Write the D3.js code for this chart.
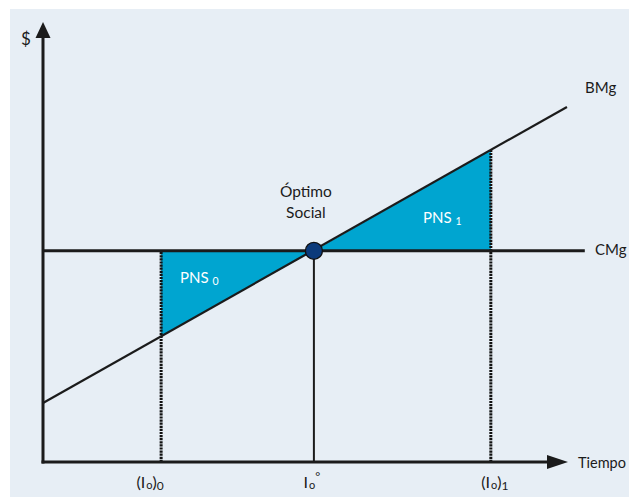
<!DOCTYPE html>
<html>
<head>
<meta charset="utf-8">
<script src="https://cdn.jsdelivr.net/npm/d3@7"></script>
<style>
  html, body { margin: 0; padding: 0; background: #ffffff; }
  svg { display: block; font-family: "Lato", "Noto Sans", sans-serif; }
</style>
</head>
<body>
<svg id="chart" width="629" height="497"></svg>
<script>
// ---------- DATA (abstract units: time on x, $ on y) ----------
const tickValues = [22.5, 51.6, 85.3];
const tickLabels = [
  [["(I", "n"], ["o", "sub"], [")", "n"], ["0", "sub2"]],
  [["I", "n"], ["o", "sub"], ["°", "sup"]],
  [["(I", "n"], ["o", "sub"], [")", "n"], ["1", "sub2"]]
];
const cmgLevel = 48;
const cmgExtent = [0, 103.2];
const bmgLine = [[0, 13.4], [99.8, 80.7]];
const optimum = [51.6, 48];
const pns0 = [[22.5, 48], [51.6, 48], [22.5, 28.6]];
const pns1 = [[51.6, 48], [85.3, 48], [85.3, 70.9]];
const dottedGuides = [[22.5, 48], [85.3, 70.9]];
const solidGuides = [[51.6, 48]];
const curveLabels = ["BMg", "CMg"];
const axisLabels = ["$", "Tiempo"];
const optimumLabel = ["Óptimo", "Social"];
const areaLabels = [["PNS", "0"], ["PNS", "1"]];

// ---------- LAYOUT ----------
const W = 629, H = 497;
const x = d3.scaleLinear().domain([0, 100]).range([43, 568]);
const y = d3.scaleLinear().domain([0, 100]).range([462, 22]);
const ink = "#1b1b1b";
const fillBlue = "#00a5d0";

const svg = d3.select("#chart");
svg.append("rect").attr("x", 10).attr("y", 9).attr("width", W - 10).attr("height", H - 9)
  .attr("fill", "#e7eef5");

const line = d3.line().x(d => x(d[0])).y(d => y(d[1]));

// shaded areas
svg.selectAll("path.pns").data([pns0, pns1]).enter().append("path")
  .attr("class", "pns")
  .attr("d", d => line(d) + "Z")
  .attr("fill", fillBlue);

// guides
svg.selectAll("line.dot").data(dottedGuides).enter().append("line")
  .attr("x1", d => x(d[0])).attr("x2", d => x(d[0]))
  .attr("y1", y(0)).attr("y2", d => y(d[1]))
  .attr("stroke", "#111").attr("stroke-width", 3).attr("stroke-dasharray", "2.2,0.9");
svg.selectAll("line.solid").data(solidGuides).enter().append("line")
  .attr("x1", d => x(d[0])).attr("x2", d => x(d[0]))
  .attr("y1", y(0)).attr("y2", d => y(d[1]))
  .attr("stroke", ink).attr("stroke-width", 2);

// BMg
svg.append("path").attr("d", line(bmgLine)).attr("fill", "none")
  .attr("stroke", ink).attr("stroke-width", 2.2);
// CMg
svg.append("line")
  .attr("x1", x(cmgExtent[0])).attr("x2", x(cmgExtent[1]))
  .attr("y1", y(cmgLevel)).attr("y2", y(cmgLevel))
  .attr("stroke", ink).attr("stroke-width", 3);

// axes
svg.append("line").attr("x1", x(0)).attr("x2", x(0))
  .attr("y1", y(0) + 1.5).attr("y2", y(100) + 14)
  .attr("stroke", ink).attr("stroke-width", 3);
svg.append("line").attr("x1", x(0) - 1.5).attr("x2", x(100) - 18)
  .attr("y1", y(0)).attr("y2", y(0))
  .attr("stroke", ink).attr("stroke-width", 3);
// arrow heads
svg.append("path")
  .attr("d", `M${x(0)},${y(100)} L${x(0) + 7.5},${y(100) + 16} L${x(0) - 7.5},${y(100) + 16} Z`)
  .attr("fill", ink);
svg.append("path")
  .attr("d", `M${x(100)},${y(0)} L${x(100) - 21},${y(0) - 7} L${x(100) - 21},${y(0) + 7} Z`)
  .attr("fill", ink);

// optimum point
svg.append("circle").attr("cx", x(optimum[0])).attr("cy", y(optimum[1])).attr("r", 8.5)
  .attr("fill", "#0b3a7b").attr("stroke", "#111").attr("stroke-width", 1.3);

// axis labels
svg.append("text").attr("x", 21).attr("y", 45).attr("font-size", 17).attr("fill", ink).text(axisLabels[0]);
svg.append("text").attr("x", 578).attr("y", 468).attr("font-size", 14.5).attr("fill", ink).text(axisLabels[1]);

// curve labels
svg.append("text").attr("x", 585).attr("y", 93).attr("font-size", 15).attr("fill", ink).text(curveLabels[0]);
svg.append("text").attr("x", 595).attr("y", 255).attr("font-size", 15).attr("fill", ink).text(curveLabels[1]);

// optimum label
svg.selectAll("text.opt").data(optimumLabel).enter().append("text")
  .attr("class", "opt")
  .attr("x", x(optimum[0]) - 8).attr("y", (d, i) => 197 + i * 21)
  .attr("text-anchor", "middle").attr("font-size", 15.5).attr("fill", ink)
  .text(d => d);

// area labels
const areaPos = [[180, 283], [423, 223]];
areaLabels.forEach((lab, i) => {
  const t = svg.append("text").attr("x", areaPos[i][0]).attr("y", areaPos[i][1])
    .attr("font-size", 15).attr("fill", "#ffffff");
  t.append("tspan").text(lab[0] + " ");
  t.append("tspan").attr("font-size", 10.5).attr("dy", 2).text(lab[1]);
});

// tick labels
const labelDx = [-11, -2, 4];
tickLabels.forEach((parts, i) => {
  const t = svg.append("text").attr("x", x(tickValues[i]) + labelDx[i]).attr("y", 488)
    .attr("text-anchor", "middle").attr("font-size", 16).attr("fill", ink);
  let cur = 0;
  parts.forEach(([s, kind]) => {
    const ts = t.append("tspan").text(s);
    if (kind === "sub") { ts.attr("font-size", 11).attr("dx", 1).attr("dy", 1 - cur); cur = 1; }
    else if (kind === "sub2") { ts.attr("font-size", 12).attr("dy", 2 - cur); cur = 2; }
    else if (kind === "sup") { ts.attr("font-size", 12).attr("dy", -7 - cur); cur = -7; }
    else { ts.attr("dy", 0 - cur); cur = 0; }
  });
});
</script>
</body>
</html>
